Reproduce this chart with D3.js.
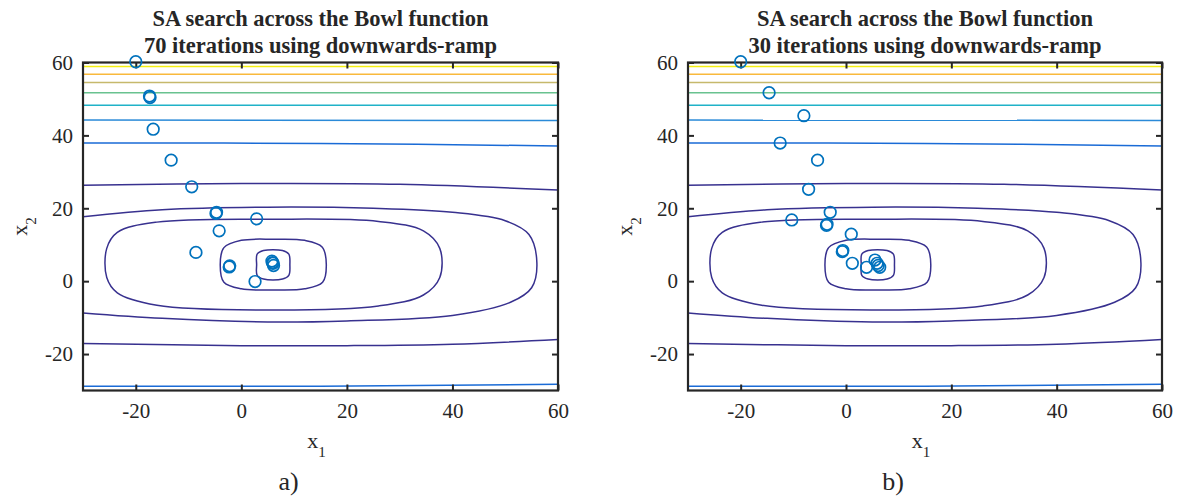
<!DOCTYPE html>
<html>
<head>
<meta charset="utf-8">
<script src="https://cdn.jsdelivr.net/npm/d3@7"></script>
<style>
  body { margin: 0; background: #fff; }
  svg text { font-family: "Liberation Serif", "Times New Roman", serif; fill: #262626; }
</style>
</head>
<body>
<svg id="chart" width="1182" height="500"></svg>
<script>
// axis ticks
const xTicks = [-20, 0, 20, 40, 60];
const yTicks = [-20, 0, 20, 40, 60];

// contour lines, [x1, x2]
const ringA = [[4.2, 8.4], [7.8, 8.4], [9.0, 7.4], [9.2, 4.5], [9.0, 1.6], [7.8, 0.6], [4.2, 0.6], [3.0, 1.6], [2.9, 4.5], [3.0, 7.4]];
const ringB = [[0, 11.2], [6, 11.5], [12, 11.2], [15.3, 9.4], [16.1, 4.5], [15.4, -0.3], [12, -2.1], [6, -2.4], [0, -2.1], [-3.3, -0.3], [-4.0, 4.5], [-3.3, 9.2]];
const ringC = [[-16, 16.2], [6, 17.0], [26, 16.4], [34.5, 13.8], [37.6, 9], [37.6, 1], [34.5, -3.8], [26, -6.8], [6, -7.9], [-16, -6.6], [-23.5, -3.2], [-25.5, 1], [-25.5, 9], [-23.5, 13.4]];
const arcD = [[-30, 17.7], [-15, 19.6], [5, 20.3], [25, 20.0], [40, 18.9], [50, 16.6], [54.5, 12.8], [56, 5], [55, -1.8], [51, -5.8], [40, -9.4], [20, -10.9], [5, -11.2], [-15, -10.2], [-30, -8.7]];
const lineEtop = [[-30, 26.3], [0, 26.8], [30, 26.6], [60, 25.0]];
const lineEbot = [[-30, -17.1], [0, -17.7], [20, -17.7], [40, -17.3], [60, -16.0]];
const lineFtop = [[-30, 37.9], [15, 37.8], [60, 37.1]];
const lineFbot = [[-30, -28.8], [15, -28.8], [60, -28.3]];
const lineG = [[-30, 44.2], [60, 44.1]];
const lineH = [[-30, 48.3], [60, 48.3]];
const lineI = [[-30, 51.7], [60, 51.7]];
const lineJ = [[-30, 54.5], [60, 54.5]];
const lineK = [[-30, 56.8], [60, 56.8]];
const lineL = [[-30, 58.9], [60, 58.9]];

// SA search points, [x1, x2]
const pointsA = [[-20, 60.2], [-17.3, 50.4], [-17.4, 50.8], [-16.7, 41.7], [-13.3, 33.2], [-9.4, 25.9], [-4.7, 18.9], [-4.8, 18.6],
  [2.9, 17.1], [-4.2, 13.8], [-8.6, 7.9], [-2.2, 4.2], [-2.3, 3.9], [2.6, -0.1], [5.8, 5.5], [6.0, 4.9], [6.1, 4.3], [5.9, 5.1]];
const pointsB = [[-20, 60.2], [-14.6, 51.7], [-8.0, 45.4], [-12.5, 37.9], [-5.4, 33.2], [-7.1, 25.2], [-3.0, 18.9], [-10.3, 16.8],
  [-3.6, 15.6], [-3.7, 15.3], [1.0, 12.9], [-0.6, 8.4], [-0.7, 8.1], [1.2, 4.9], [3.9, 3.8], [5.5, 5.8], [5.9, 4.9], [6.1, 4.3], [6.4, 3.8]];

const titleLine1 = "SA search across the Bowl function";
const titles = ["70 iterations using downwards-ramp", "30 iterations using downwards-ramp"];
const letters = ["a)", "b)"];

const navy = "#38318f";
const contours = [
  { pts: ringA, closed: true, color: navy },
  { pts: ringB, closed: true, color: navy },
  { pts: ringC, closed: true, color: navy },
  { pts: arcD, closed: false, color: navy },
  { pts: lineEtop, closed: false, color: navy },
  { pts: lineEbot, closed: false, color: navy },
  { pts: lineFtop, closed: false, color: "#1a6bd6" },
  { pts: lineFbot, closed: false, color: "#1a6bd6" },
  { pts: lineG, closed: false, color: "#2a8ad8" },
  { pts: lineH, closed: false, color: "#1fb2c8" },
  { pts: lineI, closed: false, color: "#69c28f" },
  { pts: lineJ, closed: false, color: "#c6b96c" },
  { pts: lineK, closed: false, color: "#f9b93c" },
  { pts: lineL, closed: false, color: "#f4ef12" }
];

const svg = d3.select("#chart");
const panels = [
  { left: 83, right: 558, points: pointsA },
  { left: 688, right: 1162, points: pointsB }
];
const plotTop = 62.5, plotBottom = 390.5;

panels.forEach((p, i) => {
  const x = d3.scaleLinear().domain([-30, 60]).range([p.left, p.right]);
  const y = d3.scaleLinear().domain([-30, 60]).range([plotBottom, plotTop]);
  const g = svg.append("g");

  const clipId = "clip" + i;
  svg.append("clipPath").attr("id", clipId)
    .append("rect")
      .attr("x", p.left).attr("y", plotTop)
      .attr("width", p.right - p.left).attr("height", plotBottom - plotTop);

  const lineOpen = d3.line().x(d => x(d[0])).y(d => y(d[1])).curve(d3.curveCatmullRom);
  const lineClosed = d3.line().x(d => x(d[0])).y(d => y(d[1])).curve(d3.curveCatmullRomClosed);

  g.append("g").attr("clip-path", `url(#${clipId})`)
    .selectAll("path")
    .data(contours)
    .enter()
    .append("path")
      .attr("d", d => d.closed ? lineClosed(d.pts) : lineOpen(d.pts))
      .attr("fill", "none")
      .attr("stroke", d => d.color)
      .attr("stroke-width", 1.5);

  // axes, ticks pointing inwards
  const styleAxis = sel => {
    sel.select(".domain").remove();
    sel.selectAll("line").attr("stroke", "#262626").attr("stroke-width", 2);
    sel.selectAll("text").style("font-size", "21px").attr("fill", "#262626");
  };
  const fmt = d => String(d);
  g.append("g").attr("transform", `translate(0,${plotBottom})`)
    .call(d3.axisBottom(x).tickValues(xTicks).tickSize(-6).tickPadding(13).tickFormat(fmt))
    .call(styleAxis);
  g.append("g").attr("transform", `translate(0,${plotTop})`)
    .call(d3.axisTop(x).tickValues(xTicks).tickSize(-6).tickFormat(""))
    .call(styleAxis);
  g.append("g").attr("transform", `translate(${p.left},0)`)
    .call(d3.axisLeft(y).tickValues(yTicks).tickSize(-6).tickPadding(10).tickFormat(fmt))
    .call(styleAxis);
  g.append("g").attr("transform", `translate(${p.right},0)`)
    .call(d3.axisRight(y).tickValues(yTicks).tickSize(-6).tickFormat(""))
    .call(styleAxis);
  g.selectAll("text").attr("font-family", "Liberation Serif");

  g.append("rect")
    .attr("x", p.left).attr("y", plotTop)
    .attr("width", p.right - p.left).attr("height", plotBottom - plotTop)
    .attr("fill", "none").attr("stroke", "#262626").attr("stroke-width", 2.2);

  g.append("g").selectAll("circle")
    .data(p.points)
    .enter()
    .append("circle")
      .attr("cx", d => x(d[0]))
      .attr("cy", d => y(d[1]))
      .attr("r", 5.8)
      .attr("fill", "none")
      .attr("stroke", "#0072bd")
      .attr("stroke-width", 1.7);

  const cx = (p.left + p.right) / 2;
  g.append("text").attr("x", cx).attr("y", 26).attr("text-anchor", "middle")
    .style("font-size", "22.5px").style("font-weight", "bold").attr("fill", "#000").text(titleLine1);
  g.append("text").attr("x", cx).attr("y", 52.5).attr("text-anchor", "middle")
    .style("font-size", "22.5px").style("font-weight", "bold").attr("fill", "#000").text(titles[i]);

  // axis labels
  const xl = g.append("text").attr("x", cx - 4).attr("y", 448).attr("text-anchor", "middle").style("font-size", "22px");
  xl.append("tspan").text("x");
  xl.append("tspan").attr("dy", 9).style("font-size", "15px").text("1");

  const yl = g.append("text")
    .attr("transform", `translate(${p.left - 56},${(plotTop + plotBottom) / 2}) rotate(-90)`)
    .attr("text-anchor", "middle").style("font-size", "22px");
  yl.append("tspan").text("x");
  yl.append("tspan").attr("dy", 9).style("font-size", "15px").text("2");

  g.append("text").attr("x", cx - 32).attr("y", 490).attr("text-anchor", "middle")
    .style("font-size", "26px").attr("fill", "#000").text(letters[i]);
});
</script>
</body>
</html>
